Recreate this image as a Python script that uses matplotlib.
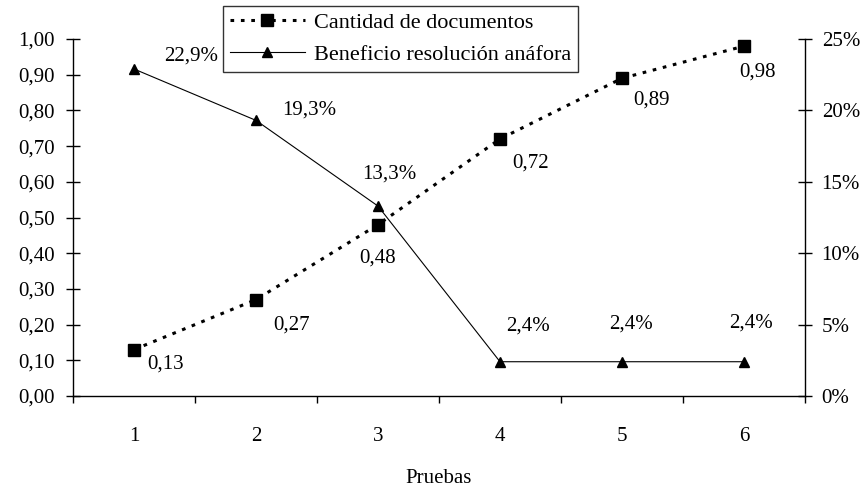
import matplotlib
matplotlib.use("Agg")
import matplotlib.pyplot as plt
from matplotlib.ticker import FuncFormatter, FixedLocator

plt.rcParams['font.family'] = ['Liberation Serif', 'DejaVu Serif']
plt.rcParams['font.size'] = 15

pruebas = [1, 2, 3, 4, 5, 6]
documentos = [0.13, 0.27, 0.48, 0.72, 0.89, 0.98]
beneficio = [22.9, 19.3, 13.3, 2.4, 2.4, 2.4]

# label offsets in pixels (x right, y up)
doc_off = [(32, -14), (36, -25), (0, -33), (31, -24), (29, -22), (13, -26)]
ben_off = [(57, 13), (53, 10), (11, 32), (28, 36), (9, 38), (7, 39)]

fig = plt.figure(figsize=(8.67, 4.91), dpi=100)
ax = fig.add_axes([73 / 867, 1 - 396 / 491, 732 / 867, 357 / 491])
ax2 = ax.twinx()

l1, = ax.plot(pruebas, documentos, color='black', lw=2.2, ls=(0, (1.2, 2.2)),
              marker='s', ms=9, label='Cantidad de documentos', zorder=3)
l2, = ax2.plot(pruebas, beneficio, color='black', lw=0.8, ls='-',
               marker='^', ms=7, label='Beneficio resolución anáfora', zorder=3)

for x, v, (dx, dy) in zip(pruebas, documentos, doc_off):
    ax.annotate(f"{v:.2f}".replace('.', ','), (x, v), xytext=(dx, dy),
                textcoords='offset pixels', ha='center', va='center')
for x, v, (dx, dy) in zip(pruebas, beneficio, ben_off):
    ax2.annotate(f"{v:.1f}%".replace('.', ','), (x, v), xytext=(dx, dy),
                 textcoords='offset pixels', ha='center', va='center')

ax.set_xlim(0.5, 6.5)
ax.set_ylim(0, 1)
ax2.set_ylim(0, 25)

ax.set_yticks([i / 10 for i in range(11)])
ax.yaxis.set_major_formatter(FuncFormatter(lambda v, p: f"{v:.2f}".replace('.', ',')))
ax2.set_yticks([0, 5, 10, 15, 20, 25])
ax2.yaxis.set_major_formatter(FuncFormatter(lambda v, p: f"{v:.0f}%"))

ax.set_xticks(pruebas)
ax.xaxis.set_minor_locator(FixedLocator([i + 0.5 for i in range(7)]))
ax.tick_params(axis='x', which='major', length=0, pad=22)
ax.tick_params(axis='x', which='minor', length=5, direction='out', width=1)
ax.tick_params(axis='y', direction='inout', length=10, width=1, pad=8)
ax2.tick_params(axis='y', direction='inout', length=10, width=1, pad=7)

for a in (ax, ax2):
    a.spines['top'].set_visible(False)
    for s in a.spines.values():
        s.set_linewidth(1)
ax2.spines['left'].set_visible(False)
ax2.spines['bottom'].set_visible(False)
ax.spines['right'].set_visible(False)

ax.set_xlabel('Pruebas', labelpad=17)

leg = fig.legend(handles=[l1, l2], loc='upper left', bbox_to_anchor=(223 / 867, 1 - 6 / 491),
                 frameon=True, fancybox=False, edgecolor='black', fontsize=16,
                 handlelength=3.4, handletextpad=0.4, labelspacing=0.5,
                 borderpad=0.3, borderaxespad=0)
leg.get_frame().set_linewidth(1)

fig.savefig('out.png', dpi=100)
